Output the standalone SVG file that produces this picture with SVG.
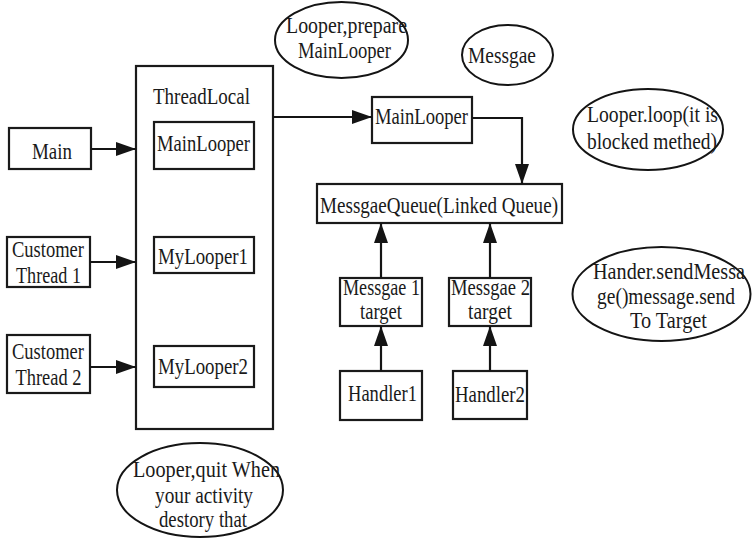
<svg xmlns="http://www.w3.org/2000/svg" width="752" height="538" viewBox="0 0 752 538">
  <defs>
    <marker id="arrow" markerUnits="userSpaceOnUse" markerWidth="20" markerHeight="14" refX="20" refY="7" orient="auto">
      <path d="M0,0 L20,7 L0,14 z" fill="#141414"/>
    </marker>
    <style>
      .box { fill: #ffffff; stroke: #1a1a1a; stroke-width: 2.2; }
      .oval { fill: #ffffff; stroke: #141414; stroke-width: 2; }
      .wire { fill: none; stroke: #141414; stroke-width: 2.2; marker-end: url(#arrow); }
      text { font-family: "Liberation Serif", "Times New Roman", serif; font-size: 23px; fill: #1a1a1a; text-anchor: middle; }
    </style>
  </defs>

  <rect width="752" height="538" fill="#ffffff"/>

  <!-- ThreadLocal container with its loopers -->
  <g id="threadlocal">
    <rect class="box" x="136" y="66" width="137" height="363"/>
    <text x="201.5" y="104" textLength="97" lengthAdjust="spacingAndGlyphs">ThreadLocal</text>
  </g>
  <g id="tl-mainlooper">
    <rect class="box" x="154" y="122" width="100" height="47"/>
    <text x="203.5" y="151" textLength="93" lengthAdjust="spacingAndGlyphs">MainLooper</text>
  </g>
  <g id="mylooper1">
    <rect class="box" x="154" y="237" width="100" height="36"/>
    <text x="203" y="264" textLength="90" lengthAdjust="spacingAndGlyphs">MyLooper1</text>
  </g>
  <g id="mylooper2">
    <rect class="box" x="154" y="346" width="100" height="41"/>
    <text x="203" y="374" textLength="90" lengthAdjust="spacingAndGlyphs">MyLooper2</text>
  </g>

  <!-- threads -->
  <g id="main">
    <rect class="box" x="9" y="128" width="82" height="41"/>
    <text x="52" y="159" textLength="40" lengthAdjust="spacingAndGlyphs">Main</text>
  </g>
  <g id="customer-thread-1">
    <rect class="box" x="7" y="237" width="83" height="50"/>
    <text x="48" y="257" textLength="72" lengthAdjust="spacingAndGlyphs">Customer</text>
    <text x="48.5" y="283" textLength="65" lengthAdjust="spacingAndGlyphs">Thread 1</text>
  </g>
  <g id="customer-thread-2">
    <rect class="box" x="7" y="335" width="83" height="58"/>
    <text x="48" y="359" textLength="72" lengthAdjust="spacingAndGlyphs">Customer</text>
    <text x="48.5" y="385" textLength="66" lengthAdjust="spacingAndGlyphs">Thread 2</text>
  </g>

  <!-- message loop side -->
  <g id="mainlooper">
    <rect class="box" x="372" y="97" width="100" height="46"/>
    <text x="421.5" y="124" textLength="93" lengthAdjust="spacingAndGlyphs">MainLooper</text>
  </g>
  <g id="messagequeue">
    <rect class="box" x="317" y="184" width="245" height="39"/>
    <text x="439" y="213" textLength="238" lengthAdjust="spacingAndGlyphs">MessgaeQueue(Linked Queue)</text>
  </g>
  <g id="message1">
    <rect class="box" x="340" y="278" width="82" height="48"/>
    <text x="381.5" y="295" textLength="77" lengthAdjust="spacingAndGlyphs">Messgae 1</text>
    <text x="381" y="319" textLength="42" lengthAdjust="spacingAndGlyphs">target</text>
  </g>
  <g id="message2">
    <rect class="box" x="449" y="278" width="82" height="48"/>
    <text x="490.5" y="295" textLength="79" lengthAdjust="spacingAndGlyphs">Messgae 2</text>
    <text x="490" y="319" textLength="44" lengthAdjust="spacingAndGlyphs">target</text>
  </g>
  <g id="handler1">
    <rect class="box" x="340" y="371" width="82" height="49"/>
    <text x="382.5" y="401" textLength="69" lengthAdjust="spacingAndGlyphs">Handler1</text>
  </g>
  <g id="handler2">
    <rect class="box" x="453" y="371" width="74" height="48"/>
    <text x="490" y="402" textLength="70" lengthAdjust="spacingAndGlyphs">Handler2</text>
  </g>

  <!-- notes -->
  <g id="note-prepare">
    <ellipse class="oval" cx="341.5" cy="40" rx="66.5" ry="38"/>
    <text x="346.5" y="33" textLength="121" lengthAdjust="spacingAndGlyphs">Looper,prepare</text>
    <text x="344.5" y="58" textLength="93" lengthAdjust="spacingAndGlyphs">MainLooper</text>
  </g>
  <g id="note-message">
    <ellipse class="oval" cx="507.5" cy="55" rx="45.5" ry="30"/>
    <text x="502" y="63" textLength="68" lengthAdjust="spacingAndGlyphs">Messgae</text>
  </g>
  <g id="note-loop">
    <ellipse class="oval" cx="648" cy="129.5" rx="75" ry="40.5"/>
    <text x="652.5" y="122" textLength="131" lengthAdjust="spacingAndGlyphs">Looper.loop(it is</text>
    <text x="652" y="149" textLength="130" lengthAdjust="spacingAndGlyphs">blocked methed)</text>
  </g>
  <g id="note-send">
    <ellipse class="oval" cx="661.5" cy="294" rx="89" ry="47"/>
    <text x="669" y="279" textLength="152" lengthAdjust="spacingAndGlyphs">Hander.sendMessa</text>
    <text x="666" y="304" textLength="138" lengthAdjust="spacingAndGlyphs">ge()message.send</text>
    <text x="668.5" y="328" textLength="77" lengthAdjust="spacingAndGlyphs">To Target</text>
  </g>
  <g id="note-quit">
    <ellipse class="oval" cx="200" cy="490" rx="83" ry="47"/>
    <text x="206.5" y="477" textLength="147" lengthAdjust="spacingAndGlyphs">Looper,quit When</text>
    <text x="204" y="503" textLength="98" lengthAdjust="spacingAndGlyphs">your activity</text>
    <text x="203" y="527" textLength="88" lengthAdjust="spacingAndGlyphs">destory that</text>
  </g>

  <!-- connectors -->
  <g id="connectors">
    <path class="wire" d="M91,149 H136"/>
    <path class="wire" d="M90,262 H136"/>
    <path class="wire" d="M90,367 H136"/>
    <path class="wire" d="M273,117 H372"/>
    <path class="wire" d="M472,118 H522 V184"/>
    <path class="wire" d="M381,278 V223"/>
    <path class="wire" d="M490,278 V223"/>
    <path class="wire" d="M381,371 V326"/>
    <path class="wire" d="M490,371 V326"/>
  </g>
</svg>
